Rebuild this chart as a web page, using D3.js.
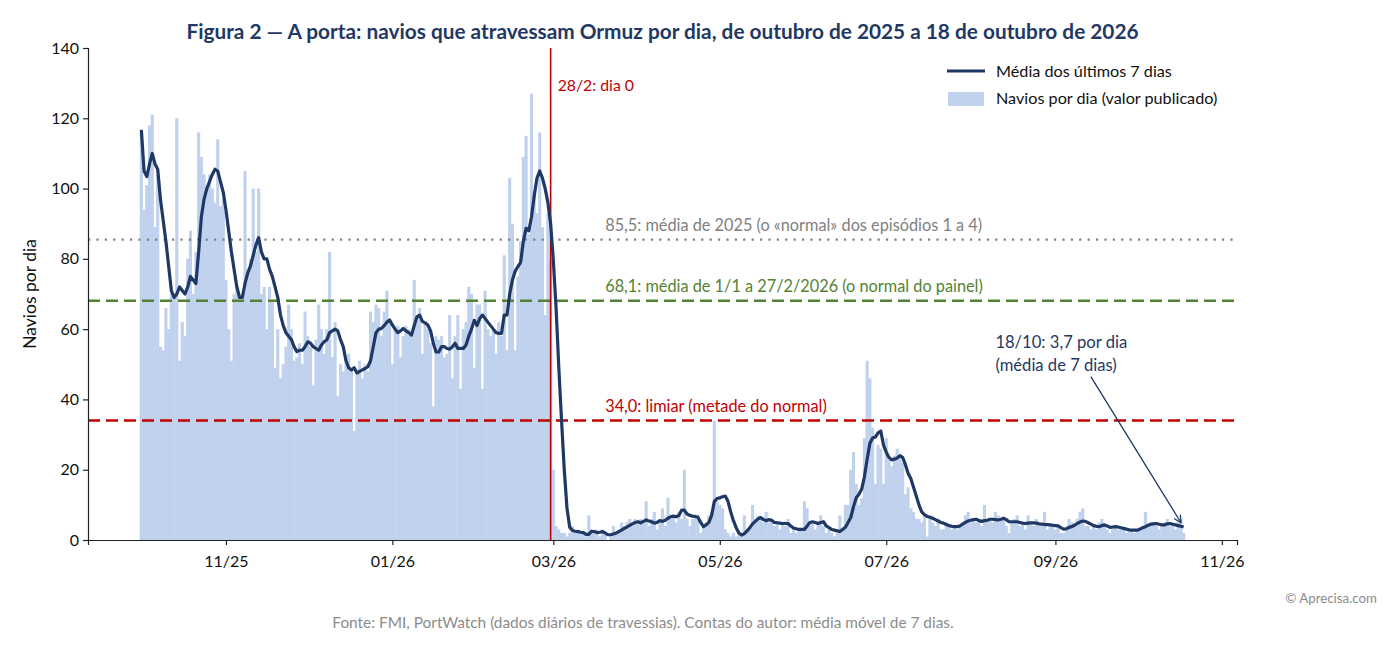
<!DOCTYPE html>
<meta charset="utf-8">
<script src="https://d3js.org/d3.v7.min.js"></script>
<style>
  body { margin: 0; background: #fff; }
  text { font-family: Lato, "Open Sans", sans-serif; }
</style>
<div id="my_dataviz"></div>
<script>

// daily series, day 0 = 1 Oct 2025, last day = 18 Oct 2026
var startDay = "2025-10-01";

// ships per day (published value)
var shipsPerDay = [
  116,94,101,118,121,89,104,55,54,66,
  60,72,70,120,51,62,58,80,88,70,
  82,116,109,104,100,104,100,96,114,95,
  97,74,60,51,70,72,68,70,105,76,
  80,100,82,100,70,72,60,72,68,49,
  60,46,50,55,67,60,51,52,56,50,
  65,58,55,44,57,67,60,53,60,82,
  52,62,41,50,48,52,53,49,31,47,
  51,46,50,48,65,62,67,66,58,65,
  71,62,50,60,61,52,58,61,60,58,
  74,63,66,53,62,60,56,38,58,57,
  58,52,53,64,46,58,64,43,60,62,
  72,70,49,67,67,43,71,60,58,60,
  53,62,58,81,54,103,90,54,75,85,
  109,115,87,127,98,93,116,89,64,93,
  80,20,4,3,2,2,1,2,4,2,
  3,2,2,1,7,2,2,3,1,3,
  2,0,1,4,2,3,5,4,5,6,
  4,6,5,6,5,11,4,6,8,3,
  5,9,4,12,6,7,5,8,6,20,
  6,4,6,7,6,2,4,5,7,8,
  34,11,10,9,3,2,1,2,1,2,
  1,7,3,4,10,6,7,6,5,8,
  5,6,4,5,3,5,4,6,2,3,
  2,3,3,11,9,4,5,3,5,7,
  4,2,3,2,1,2,7,3,10,10,
  20,25,16,10,12,29,51,46,32,16,
  27,26,16,29,23,21,24,26,24,22,
  13,15,9,8,6,6,5,7,1,6,
  5,4,6,3,3,5,4,3,4,3,
  4,5,7,8,5,6,5,6,4,10,
  5,6,5,8,7,6,6,4,2,5,
  6,7,4,5,3,7,5,4,6,4,
  4,8,3,4,4,3,4,2,2,3,
  6,5,4,6,8,9,4,4,3,4,
  3,5,6,4,3,2,4,4,3,3,
  3,2,3,3,2,3,3,4,8,4,
  5,5,4,3,4,5,6,4,4,3,
  5,6,2
];

// 7-day average as drawn in the chart
var avg7 = [
  116.7,105,103.4,107,110,107,105.5,97,91,85,
  78,71,69,70,72,71,70,72,75,74,
  73,82,92,97,100,102,104,105.5,105,102,
  99,94,88,82,77,72,69,69,73,76,
  78,81,84,86,82,80,80,77,75,72,
  69,64,61,59,58,57,55,53.6,54,54,
  55,56.4,56,55,54.5,54,55.5,56.4,57,59,
  59.5,60,59.5,57,55,51,49,48.4,49,47.5,
  48,48.4,48.8,49.3,51,55,59,60,60.2,61,
  62,62.6,61.2,60,59,59.5,60.2,59.5,59,58.3,
  61,63.5,64,62.2,61.8,61.2,59.5,56,53.5,53.5,
  55,55,54.5,54.3,55,56,54.5,54.5,54.5,55.5,
  58,60,62.5,61,63,64,63,62,61,60,
  59,58.8,58.8,64,64,70,74,76.5,77.8,79,
  85,88.7,88,92,98,103,105,103,100,96,
  90,79.5,66,49,34,20,9,3.6,2.7,2.5,
  2.4,2.2,2.1,1.6,1.6,2.5,2.4,2.1,2.2,2.4,
  2,1.5,1.5,1.7,2,2.4,2.8,3.3,3.7,4.2,
  4.6,5,5.2,4.9,5.3,5.7,5.4,5.2,4.8,5,
  5.5,5.3,5.6,6.2,6.6,6.8,6.6,7,8.5,8.5,
  7.4,7,6.8,6.7,6.5,5,3.8,4.3,5,7,
  11,11.8,12,12.3,12.5,11,8,5.5,3.5,2,
  1.4,1.8,2.6,3.5,4.6,5.3,6,6.4,5.8,5.5,
  5.8,5.6,5,4.9,4.8,4.7,4.7,4.7,4,3.4,
  3.2,3,3,3,4,5,5.2,5,4.7,5,
  5.2,4,3.5,3,2.8,2.6,2.4,3,3.6,5,
  6.4,9.5,12,13,14.5,18,23,27.5,29,29.3,
  30.5,31,27,25,23.5,22.8,23,23.3,24,23.5,
  21.5,19,17.5,15,12.5,10,8,7.2,6.7,6.5,
  6.2,5.8,5.4,5,4.8,4.4,4.1,3.9,3.8,3.8,
  4,4.5,5,5.4,5.6,5.8,5.9,5.5,5.3,5.5,
  5.6,5.9,5.9,5.8,5.7,5.9,6.2,5.8,5.2,5.2,
  5.2,5.2,5,4.8,4.7,4.8,4.9,4.9,4.8,4.6,
  4.5,4.4,4.4,4.3,4.2,4.1,4,3.5,3.1,3.2,
  3.6,3.8,4.2,4.7,5.1,5.4,5.3,4.9,4.5,4.1,
  3.9,3.8,4.1,4.3,4,3.6,3.7,3.8,3.7,3.5,
  3.3,3.1,2.9,2.8,2.8,2.8,3.1,3.5,3.8,4.2,
  4.5,4.6,4.7,4.5,4.3,4.3,4.6,4.7,4.5,4.3,
  4.1,3.9,3.7
];

// reference levels
var refLevels = [85.5, 68.1, 34.0];
var refLabels = [
  "85,5: média de 2025 (o «normal» dos episódios 1 a 4)",
  "68,1: média de 1/1 a 27/2/2026 (o normal do painel)",
  "34,0: limiar (metade do normal)"
];
var dayZero = "2026-02-28";
var yTicks = [0, 20, 40, 60, 80, 100, 120, 140];

var parse = d3.utcParse("%Y-%m-%d");
var t0 = parse(startDay);
var data = shipsPerDay.map(function(v, i) {
  return {date: d3.utcDay.offset(t0, i), ships: v, avg: avg7[i]};
});
var last = data[data.length - 1];

// dimensions
var margin = {top: 48, right: 163, bottom: 116, left: 88},
    width = 1400 - margin.left - margin.right,
    height = 656 - margin.top - margin.bottom;

var svgRoot = d3.select("#my_dataviz")
  .append("svg")
    .attr("width", 1400)
    .attr("height", 656);
var svg = svgRoot.append("g")
    .attr("transform", "translate(" + margin.left + "," + margin.top + ")");

// x: daily dates, padded like the original
var DAY = 864e5;
var pad = 19.55 * DAY;
var x = d3.scaleUtc()
  .domain([new Date(+t0 - pad), new Date(+last.date + pad)])
  .range([0, width]);
var dayW = x(d3.utcDay.offset(t0, 1)) - x(t0);

var y = d3.scaleLinear()
  .domain([0, 140])
  .range([height, 0]);

// bars
svg.append("g")
  .selectAll("rect")
  .data(data)
  .enter()
  .append("rect")
    .attr("x", function(d) { return x(d.date) - dayW / 2 - 0.2; })
    .attr("width", dayW + 0.4)
    .attr("y", function(d) { return y(d.ships); })
    .attr("height", function(d) { return y(0) - y(d.ships); })
    .style("fill", "#bfd1ed");

// reference lines
var refColors = ["#808080", "#548235", "#c00000"];
var refDash = ["2.2,6.2", "12,6", "12,6"];
refLevels.forEach(function(v, k) {
  svg.append("line")
    .attr("x1", 0).attr("x2", width)
    .attr("y1", y(v)).attr("y2", y(v))
    .style("stroke", refColors[k])
    .style("stroke-width", k == 0 ? 2.2 : 2.6)
    .style("stroke-dasharray", refDash[k]);
  svg.append("text")
    .attr("x", x(parse("2026-03-20")))
    .attr("y", y(v) - 9)
    .style("fill", refColors[k] == "#808080" ? "#7f7f7f" : refColors[k])
    .style("font-size", "16.3px")
    .text(refLabels[k]);
});

// day 0
var xd0 = x(parse(dayZero));
svg.append("line")
  .attr("x1", xd0).attr("x2", xd0)
  .attr("y1", 0).attr("y2", height)
  .style("stroke", "#c00000")
  .style("stroke-width", 1.6);
svg.append("text")
  .attr("x", xd0 + 7)
  .attr("y", y(140) + 43)
  .style("fill", "#c00000")
  .style("font-size", "15.8px")
  .text("28/2: dia 0");

// 7-day average line
svg.append("path")
  .datum(data)
  .attr("fill", "none")
  .attr("stroke", "#1f3864")
  .attr("stroke-width", 3.2)
  .attr("stroke-linejoin", "round")
  .attr("d", d3.line()
    .x(function(d) { return x(d.date); })
    .y(function(d) { return y(d.avg); }));

// axes
var xAxis = svg.append("g")
  .attr("transform", "translate(0," + height + ")")
  .call(d3.axisBottom(x)
    .ticks(d3.utcMonth.every(2))
    .tickFormat(d3.utcFormat("%m/%y"))
    .tickSizeOuter(0)
    .tickSize(5));
var yAxis = svg.append("g")
  .call(d3.axisLeft(y).tickValues(yTicks).tickSizeOuter(0).tickSize(5));
[xAxis, yAxis].forEach(function(a) {
  a.select(".domain").style("stroke", "#222").style("stroke-width", 1.2);
  a.selectAll(".tick line").style("stroke", "#222").style("stroke-width", 1.2);
  a.selectAll("text").style("font-size", "16px").style("fill", "#111")
    .style("font-family", "Lato, sans-serif");
});
xAxis.selectAll("text").attr("dy", "1.2em");
yAxis.selectAll("text").attr("x", -9);

svg.append("text")
  .attr("transform", "rotate(-90)")
  .attr("x", -height / 2)
  .attr("y", -52)
  .attr("text-anchor", "middle")
  .style("font-size", "17.5px")
  .style("fill", "#111")
  .text("Navios por dia");

// annotation of the last value
var ax = x(parse("2026-08-10"));
var ann = svg.append("text")
  .attr("x", ax)
  .attr("y", y(54.6))
  .style("fill", "#1f3864")
  .style("font-size", "16.6px");
ann.append("tspan").attr("x", ax).text("18/10: 3,7 por dia");
ann.append("tspan").attr("x", ax).attr("dy", 23).text("(média de 7 dias)");

svgRoot.append("defs").append("marker")
  .attr("id", "arrowhead")
  .attr("viewBox", "0 0 10 10")
  .attr("refX", 9).attr("refY", 5)
  .attr("markerWidth", 7).attr("markerHeight", 7)
  .attr("orient", "auto")
  .append("path")
    .attr("d", "M1,1 L9,5 L1,9")
    .attr("fill", "none")
    .attr("stroke", "#1f3864")
    .attr("stroke-width", 1.4);
var ax1 = x(parse("2026-09-14")), ay1 = y(46.5);
var ax2 = x(last.date), ay2 = y(last.avg);
var dx = ax2 - ax1, dy = ay2 - ay1, dl = Math.sqrt(dx * dx + dy * dy);
svg.append("line")
  .attr("x1", ax1).attr("y1", ay1)
  .attr("x2", ax2 - dx / dl * 5).attr("y2", ay2 - dy / dl * 5)
  .style("stroke", "#1f3864")
  .style("stroke-width", 1.3)
  .attr("marker-end", "url(#arrowhead)");

// legend
var lg = svg.append("g").attr("transform", "translate(" + (width - 290) + ",23)");
lg.append("line")
  .attr("x1", 0).attr("x2", 38).attr("y1", 0).attr("y2", 0)
  .style("stroke", "#1f3864").style("stroke-width", 3.2);
lg.append("text").attr("x", 49).attr("y", 0).attr("dy", "0.35em")
  .style("font-size", "16.2px").style("fill", "#111")
  .text("Média dos últimos 7 dias");
lg.append("rect")
  .attr("x", 1).attr("y", 21).attr("width", 36).attr("height", 14)
  .style("fill", "#bfd1ed");
lg.append("text").attr("x", 49).attr("y", 27).attr("dy", "0.35em")
  .style("font-size", "16.2px").style("fill", "#111")
  .text("Navios por dia (valor publicado)");

// title and footers
svgRoot.append("text")
  .attr("x", margin.left + width / 2)
  .attr("y", 39)
  .attr("text-anchor", "middle")
  .style("font-size", "20.8px")
  .style("font-weight", "bold")
  .style("fill", "#1f3864")
  .text("Figura 2 — A porta: navios que atravessam Ormuz por dia, de outubro de 2025 a 18 de outubro de 2026");

svgRoot.append("text")
  .attr("x", 643)
  .attr("y", 628)
  .attr("text-anchor", "middle")
  .style("font-size", "15.4px")
  .style("fill", "#8c8c8c")
  .text("Fonte: FMI, PortWatch (dados diários de travessias). Contas do autor: média móvel de 7 dias.");

svgRoot.append("text")
  .attr("x", 1377)
  .attr("y", 603)
  .attr("text-anchor", "end")
  .style("font-size", "13.3px")
  .style("fill", "#8c8c8c")
  .text("© Aprecisa.com");

</script>
